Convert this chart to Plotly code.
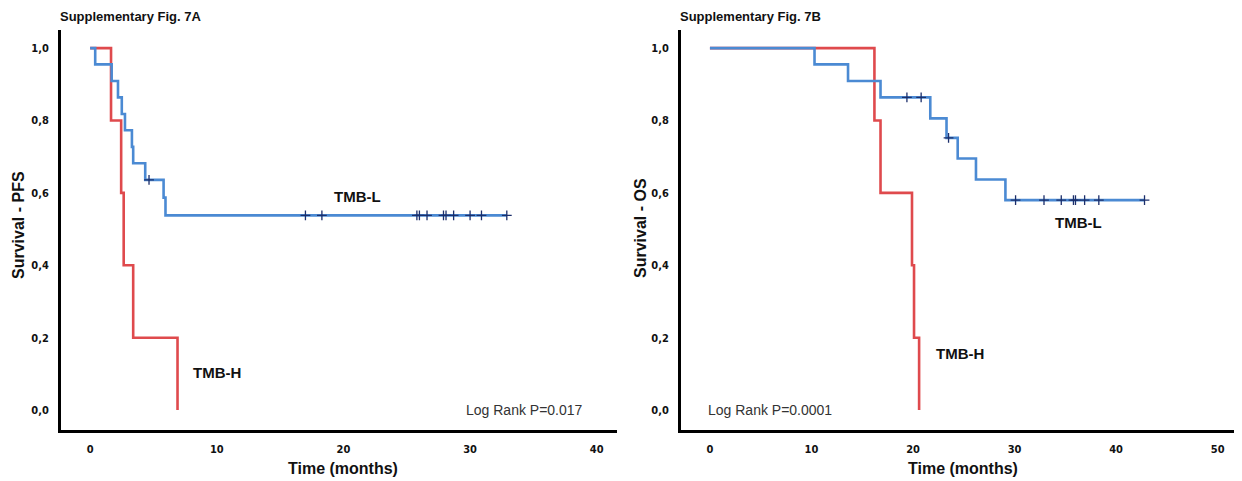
import plotly.graph_objects as go

W, H = 1242, 481
OFF = 8  # page body margin in the browser

# ---- Data ----
# Panel A: PFS
pfs_l_time = [0, 0.4, 1.7, 2.2, 2.5, 2.75, 3.3, 3.4, 4.35, 5.8, 5.95, 32.9]
pfs_l_surv = [1.0, 0.955, 0.909, 0.864, 0.818, 0.773, 0.727, 0.682, 0.636, 0.587, 0.538, 0.538]
pfs_l_cens_time = [4.65, 17.0, 18.3, 25.8, 26.0, 26.6, 27.9, 28.1, 28.7, 30.0, 30.9, 32.9]
pfs_l_cens_surv = [0.636] + [0.538] * 11
pfs_h_time = [0, 1.65, 2.45, 2.65, 3.4, 6.9]
pfs_h_surv = [1.0, 0.8, 0.6, 0.4, 0.2, 0.0]

# Panel B: OS
os_l_time = [0, 10.3, 13.6, 16.8, 21.7, 23.3, 24.4, 26.2, 29.1, 42.8]
os_l_surv = [1.0, 0.955, 0.909, 0.864, 0.806, 0.752, 0.695, 0.637, 0.580, 0.580]
os_l_cens_time = [19.4, 20.8, 23.5, 30.1, 32.9, 34.6, 35.8, 36.0, 36.9, 38.3, 42.8]
os_l_cens_surv = [0.864, 0.864, 0.752] + [0.580] * 8
os_h_time = [0, 16.2, 16.8, 19.9, 20.1, 20.6]
os_h_surv = [1.0, 0.8, 0.6, 0.4, 0.2, 0.0]

y_tickvals = [0, 0.2, 0.4, 0.6, 0.8, 1.0]
y_ticktext = ["0,0", "0,2", "0,4", "0,6", "0,8", "1,0"]
xa_tickvals = [0, 10, 20, 30, 40]
xb_tickvals = [0, 10, 20, 30, 40, 50]

RED = "#df4a4d"
BLUE = "#4b8ad3"
NAVY = "#1c2f6b"

fig = go.Figure()

def add_panel(xa, ya, lt, ls, ct, cs, ht, hs):
    fig.add_trace(go.Scatter(x=ht, y=hs, mode="lines", line=dict(color=RED, width=2.6, shape="hv"),
                             xaxis=xa, yaxis=ya, showlegend=False, hoverinfo="skip"))
    fig.add_trace(go.Scatter(x=lt, y=ls, mode="lines", line=dict(color=BLUE, width=2.6, shape="hv"),
                             xaxis=xa, yaxis=ya, showlegend=False, hoverinfo="skip"))
    fig.add_trace(go.Scatter(x=ct, y=cs, mode="markers",
                             marker=dict(symbol="cross-thin", size=7, color=NAVY,
                                         line=dict(color=NAVY, width=1.3)),
                             xaxis=xa, yaxis=ya, showlegend=False, hoverinfo="skip"))

add_panel("x", "y", pfs_l_time, pfs_l_surv, pfs_l_cens_time, pfs_l_cens_surv, pfs_h_time, pfs_h_surv)
add_panel("x2", "y2", os_l_time, os_l_surv, os_l_cens_time, os_l_cens_surv, os_h_time, os_h_surv)

def px(x):
    return (x - OFF) / W

def py(y):
    return 1 - (y - OFF) / H

ydom = [py(430), py(30)]
tickfont = dict(family="Liberation Sans Narrow, DejaVu Sans Condensed, Arial", size=11, color="#111", weight="bold")

axis_common = dict(showgrid=False, zeroline=False, showline=True, linecolor="#000", linewidth=3,
                   ticks="", tickfont=tickfont, ticklabelstandoff=7)

fig.update_layout(
    width=W, height=H,
    margin=dict(l=0, r=0, t=0, b=0, autoexpand=False),
    paper_bgcolor="white", plot_bgcolor="white",
    xaxis=dict(domain=[px(61), px(617)], range=[-2.3, 41.6], tickvals=xa_tickvals, anchor="y", **axis_common),
    yaxis=dict(domain=ydom, range=[-0.055, 1.05], tickvals=y_tickvals, ticktext=y_ticktext, anchor="x", **axis_common),
    xaxis2=dict(domain=[px(681), px(1242)], range=[-2.85, 52.4], tickvals=xb_tickvals, anchor="y2", **axis_common),
    yaxis2=dict(domain=ydom, range=[-0.055, 1.05], tickvals=y_tickvals, ticktext=y_ticktext, anchor="x2", **axis_common),
)

ann = []
def text(x, y, s, size, bold=True, xanchor="center", angle=0, color="#111", family="Liberation Sans, Arial"):
    ann.append(dict(x=px(x), y=py(y), xref="paper", yref="paper", text=s, showarrow=False,
                    xanchor=xanchor, yanchor="middle", textangle=angle,
                    font=dict(family=family, size=size, color=color, weight="bold" if bold else "normal")))

# Titles
text(58, 16, "Supplementary Fig. 7A", 13, xanchor="left")
text(678, 16, "Supplementary Fig. 7B", 13, xanchor="left")
# Axis titles
text(343, 468, "Time (months)", 16)
text(963, 468, "Time (months)", 16)
text(19, 225, "Survival - PFS", 16, angle=-90)
text(640, 228, "Survival - OS", 16, angle=-90)
# Curve labels
text(357, 197, "TMB-L", 15)
text(217, 372, "TMB-H", 15)
text(1078, 222, "TMB-L", 15)
text(960, 353, "TMB-H", 15)
# Log rank
text(585, 410, "Log Rank P=0.017", 14, bold=False, xanchor="right", color="#333")
text(706, 410, "Log Rank P=0.0001", 14, bold=False, xanchor="left", color="#333")

fig.update_layout(annotations=ann)

fig.write_html("out.html")
